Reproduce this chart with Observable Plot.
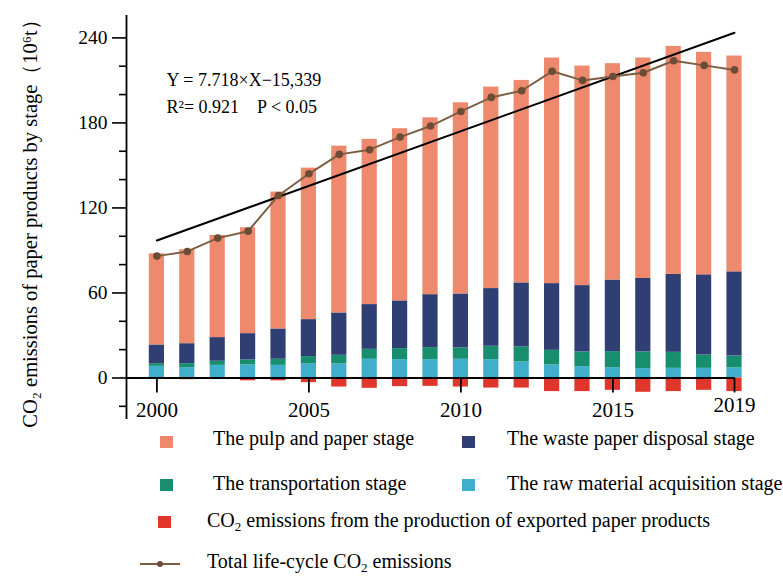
<!DOCTYPE html>
<html><head><meta charset="utf-8">
<script src="https://cdn.jsdelivr.net/npm/d3@7"></script>
<script src="https://cdn.jsdelivr.net/npm/@observablehq/plot@0.6"></script>
<style>
body{margin:0;background:#fff;}
#wrap{position:relative;width:783px;height:577px;font-family:"Liberation Serif","Times New Roman",serif;color:#000;overflow:hidden;}
#wrap svg{position:absolute;left:0;top:0;}
.lg{position:absolute;font-size:20px;white-space:nowrap;line-height:20px;}
.lg sub{font-size:13px;vertical-align:-4px;line-height:0;}
.sw{position:absolute;width:13px;height:12px;}
</style></head><body><div id="wrap"></div>
<script>
const years = [2000,2001,2002,2003,2004,2005,2006,2007,2008,2009,2010,2011,2012,2013,2014,2015,2016,2017,2018,2019];
const rawMaterial    = [8.2,7.3,8.9,9.2,8.9,9.9,9.9,13.2,12.9,12.9,13.2,12.9,11.3,9.2,8.0,7.3,6.6,6.8,6.8,7.1];
const transportation = [1.9,2.8,2.9,3.5,4.3,5.2,6.1,7.0,7.8,8.5,8.0,9.5,10.6,10.3,10.4,11.3,11.8,11.3,9.4,8.4];
const wastePaper     = [13.2,14.1,16.7,18.6,21.4,26.1,29.9,31.6,33.7,37.4,38.1,40.7,45.2,47.1,46.8,50.5,51.8,55.0,56.6,59.4];
const pulpPaper      = [64.3,66.3,72.1,74.7,96.6,106.9,117.7,116.6,121.5,124.8,134.9,142.2,142.9,159.2,154.9,152.7,155.6,160.9,157.0,152.3];
const exported       = [-0.8,-1.2,-1.0,-2.0,-2.0,-3.3,-6.4,-7.3,-6.1,-5.9,-6.4,-7.1,-7.1,-9.6,-9.6,-8.7,-10.1,-9.6,-8.7,-9.6];
const totalLifeCycle = [86.0,89.3,98.7,103.6,128.8,144.1,157.8,161.1,170.0,177.8,188.1,198.0,202.7,216.4,210.0,212.8,215.4,223.9,220.6,217.4];

const stageNames = ["The raw material acquisition stage","The transportation stage","The waste paper disposal stage","The pulp and paper stage","CO2 emissions from the production of exported paper products"];
const stageColors = ["#40AFCC","#178F6E","#2F3F73","#EE896D","#E0362B"];
const lineName = "Total life-cycle CO2 emissions";
const yMajorTicks = [0,60,120,180,240];
const yMinorTicks = [-20,20,40,80,100,140,160,200,220];
const xTicks = [2000,2005,2010,2015,2019];
const trendSlope = 7.718, trendIntercept = -15339;
const equationLines = ["Y = 7.718×X−15,339", "R²= 0.921\u00A0\u00A0\u00A0\u00A0P < 0.05"];
const yTitle = "CO₂ emissions of paper products by stage（10⁶t）";

// build stacked table
const stacks = [rawMaterial, transportation, wastePaper, pulpPaper];
const table = [];
years.forEach((year, i) => {
  let acc = 0;
  stacks.forEach((s, k) => {
    table.push({year, stage: stageNames[k], y1: acc, y2: acc + s[i]});
    acc += s[i];
  });
  table.push({year, stage: stageNames[4], y1: 0, y2: exported[i]});
});
const lineData = years.map((year, i) => ({year, total: totalLifeCycle[i]}));
const trendYears = [years[0], years[years.length - 1]];

const plot = Plot.plot({
  width: 783, height: 428,
  marginLeft: 126, marginRight: 49, marginTop: 15, marginBottom: 9,
  style: {fontFamily: "'Liberation Serif', 'Times New Roman', serif", fontSize: "19px", color: "#000", background: "transparent", overflow: "visible"},
  x: {domain: [1999, 2019], axis: null},
  y: {domain: [-29.3, 255.8]},
  color: {domain: stageNames, range: stageColors},
  marks: [
    Plot.rect(table, {x1: d => d.year - 0.25, x2: d => d.year + 0.25, y1: "y1", y2: "y2", fill: "stage"}),
    Plot.line(trendYears, {x: d => d, y: d => trendSlope * d + trendIntercept, stroke: "#000", strokeWidth: 2}),
    Plot.line(lineData, {x: "year", y: "total", stroke: "#7E5E43", strokeWidth: 2}),
    Plot.dot(lineData, {x: "year", y: "total", r: 3.8, fill: "#6B4D35", stroke: "none"}),
    Plot.ruleX([1999], {stroke: "#000", strokeWidth: 1.8}),
    Plot.ruleY([0], {x1: 1999, x2: 2019, stroke: "#000", strokeWidth: 1.8}),
    Plot.ruleX(xTicks, {x: d => d, y1: 0, y2: 0, insetBottom: -15, stroke: "#000", strokeWidth: 1.8}),
    Plot.text(xTicks.filter(d => d !== 2019), {x: d => d, y: 0, dy: 32, text: d => String(d), fontSize: 21}),
    Plot.text(xTicks.filter(d => d === 2019), {x: d => d, y: 0, dy: 27, text: d => String(d), fontSize: 21}),
    Plot.axisY(yMajorTicks, {tickSize: 14, tickPadding: 5, fontSize: 19.5, label: null, strokeWidth: 1.6}),
    Plot.axisY(yMinorTicks, {tickSize: 7, tickFormat: () => "", label: null, strokeWidth: 1.6}),
    Plot.text([equationLines.join("\n")], {frameAnchor: "top-left", dx: 40, dy: 52, textAnchor: "start", lineAnchor: "top", lineHeight: 1.48, fontSize: 18}),
    Plot.text([yTitle], {frameAnchor: "left", textAnchor: "middle", rotate: -90, dx: -96, dy: 1, fontSize: 20.5})
  ]
});
const wrap = document.getElementById("wrap");
wrap.appendChild(plot);

// legend (HTML, below the plot)
const sub2 = s => s.replace("CO2", "CO<sub>2</sub>");
const legendItems = [
  {name: stageNames[3], color: stageColors[3], sx: 160, sy: 436, tx: 213, ty: 428},
  {name: stageNames[2], color: stageColors[2], sx: 462, sy: 436, tx: 507, ty: 428},
  {name: stageNames[1], color: stageColors[1], sx: 160, sy: 479, tx: 213, ty: 473},
  {name: stageNames[0], color: stageColors[0], sx: 462, sy: 479, tx: 507, ty: 473},
  {name: stageNames[4], color: stageColors[4], sx: 158, sy: 516, tx: 207, ty: 510}
];
legendItems.forEach(it => {
  const sw = document.createElement("div");
  sw.className = "sw";
  sw.style.left = it.sx + "px"; sw.style.top = it.sy + "px"; sw.style.background = it.color;
  wrap.appendChild(sw);
  const t = document.createElement("div");
  t.className = "lg";
  t.style.left = it.tx + "px"; t.style.top = it.ty + "px";
  t.innerHTML = sub2(it.name);
  wrap.appendChild(t);
});
// line legend
const svgNS = "http://www.w3.org/2000/svg";
const ls = document.createElementNS(svgNS, "svg");
ls.setAttribute("width", 50); ls.setAttribute("height", 12);
ls.style.position = "absolute"; ls.style.left = "138px"; ls.style.top = "558px";
ls.innerHTML = '<line x1="2" x2="42" y1="6" y2="6" stroke="#7E5E43" stroke-width="2"/><circle cx="22" cy="6" r="3" fill="#6B4D35"/>';
wrap.appendChild(ls);
const lt = document.createElement("div");
lt.className = "lg"; lt.style.left = "207px"; lt.style.top = "551px";
lt.innerHTML = sub2(lineName);
wrap.appendChild(lt);
</script></body></html>
